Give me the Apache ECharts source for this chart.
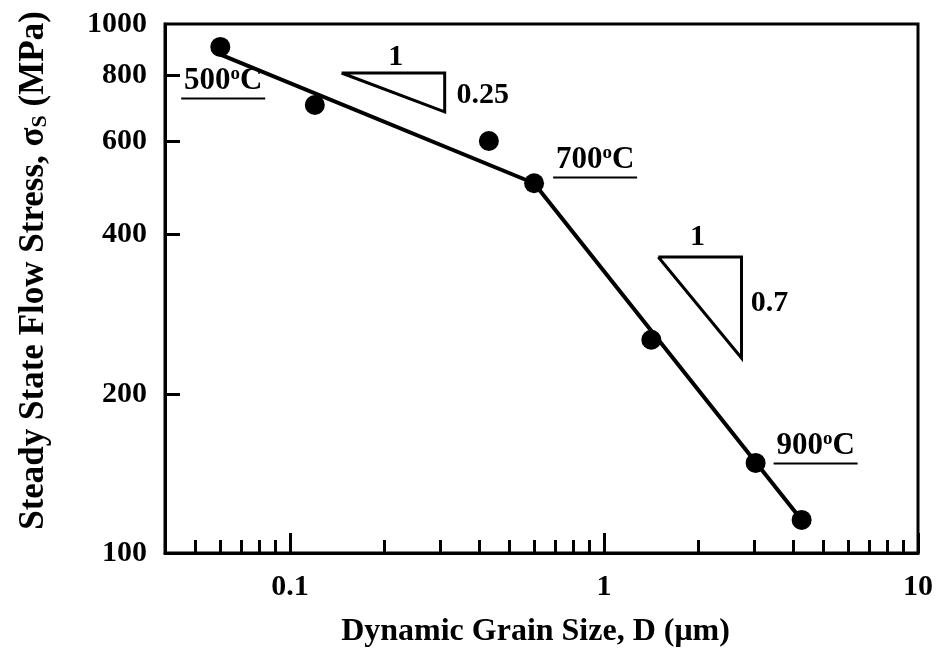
<!DOCTYPE html>
<html>
<head>
<meta charset="utf-8">
<script src="https://cdn.jsdelivr.net/npm/echarts@6/dist/echarts.min.js"></script>
<style>
html,body{margin:0;padding:0;background:#fff;}
#chart{width:940px;height:653px;}
</style>
</head>
<body>
<div id="chart"></div>
<script>
// ---- data ----
const xTickLabels = [0.1, 1, 10];
const xMinorTicks = [0.05,0.06,0.07,0.08,0.09,0.2,0.3,0.4,0.5,0.6,0.7,0.8,0.9,2,3,4,5,6,7,8,9];
const yTickLabels = [100, 200, 400, 600, 800, 1000];
const yTicks = [200, 400, 600, 800];

const grainSize  = [0.060, 0.120, 0.430, 0.599, 1.415, 3.04, 4.26];
const flowStress = [905, 703, 601, 500, 253, 148, 115.5];

const fitX = [0.0604, 0.599, 4.26];
const fitY = [874, 500, 115.5];

const tri1X = [0.146, 0.311, 0.311, 0.146];
const tri1Y = [808, 808, 682, 808];
const tri2X = [1.489, 2.741, 2.741, 1.489];
const tri2Y = [362.7, 362.7, 233.7, 362.7];

const tempLabels = ['500', '700', '900'];
const tempX = [0.0613, 0.937, 4.72];
const tempY = [715, 507, 146];

const slopeLabels = ['1', '0.25', '1', '0.7'];
const slopeX = [0.2172, 0.4114, 1.984, 3.368];
const slopeY = [866, 734, 395.8, 297];

// ---- chart ----
const FONT = '"Liberation Serif", "Times New Roman", serif';
const zip = (a, b) => a.map((v, i) => [v, b[i]]);
const fmt = v => String(+(+v).toPrecision(6));

const chart = echarts.init(document.getElementById('chart'), null, {renderer: 'canvas'});

const option = {
  backgroundColor: '#fff',
  animation: false,
  grid: {
    left: 165, right: 22, top: 24, bottom: 100,
    show: true, borderColor: '#000', borderWidth: 3, backgroundColor: 'transparent'
  },
  xAxis: [{
    type: 'log', logBase: 10, min: 0.04, max: 10,
    position: 'bottom',
    name: 'Dynamic Grain Size, D (μm)',
    nameLocation: 'middle', nameGap: 63,
    nameTextStyle: {fontFamily: FONT, fontWeight: 'bold', fontSize: 32, color: '#000', padding: [0, 12, 0, 0]},
    axisLine: {show: true, lineStyle: {color: '#000', width: 3}},
    axisTick: {show: true, inside: true, length: 20, lineStyle: {color: '#000', width: 3}, customValues: xTickLabels},
    axisLabel: {show: true, margin: 19, customValues: xTickLabels, formatter: fmt,
      fontFamily: FONT, fontWeight: 'bold', fontSize: 30, color: '#000'},
    splitLine: {show: false},
    minorTick: {show: false}
  }, {
    type: 'log', logBase: 10, min: 0.04, max: 10,
    position: 'bottom', offset: 0,
    axisLine: {show: false},
    axisTick: {show: true, inside: true, length: 13, lineStyle: {color: '#000', width: 3}, customValues: xMinorTicks},
    axisLabel: {show: false},
    splitLine: {show: false}
  }],
  yAxis: [{
    type: 'log', logBase: 10, min: 100, max: 1000,
    name: '{a|Steady State Flow Stress, σ}{b|S}{a| (MPa)}',
    nameLocation: 'middle', nameGap: 114, nameRotate: 90,
    nameTextStyle: {
      color: '#000',
      padding: [0, 0, 0, 36],
      rich: {
        a: {fontFamily: FONT, fontWeight: 'bold', fontSize: 35, color: '#000'},
        b: {fontFamily: FONT, fontWeight: 'bold', fontSize: 22, color: '#000', verticalAlign: 'bottom'}
      }
    },
    axisLine: {show: true, lineStyle: {color: '#000', width: 3}},
    axisTick: {show: true, inside: true, length: 15, lineStyle: {color: '#000', width: 3}, customValues: yTicks},
    axisLabel: {show: true, margin: 18, customValues: yTickLabels, formatter: fmt,
      fontFamily: FONT, fontWeight: 'bold', fontSize: 30, color: '#000'},
    splitLine: {show: false},
    minorTick: {show: false}
  }],
  series: [
    {
      type: 'line', data: zip(fitX, fitY), symbol: 'none',
      lineStyle: {color: '#000', width: 4, opacity: 1}, z: 2, silent: true
    },
    {
      type: 'line', data: zip(tri1X, tri1Y), symbol: 'none',
      lineStyle: {color: '#000', width: 3, join: 'miter', opacity: 1}, z: 2, silent: true
    },
    {
      type: 'line', data: zip(tri2X, tri2Y), symbol: 'none',
      lineStyle: {color: '#000', width: 3, join: 'miter', opacity: 1}, z: 2, silent: true
    },
    {
      type: 'scatter', data: zip(grainSize, flowStress), symbol: 'circle', symbolSize: 20,
      itemStyle: {color: '#000', opacity: 1}, z: 3, silent: true
    },
    {
      type: 'scatter', data: zip(slopeX, slopeY).map((p, i) => ({value: p, name: slopeLabels[i]})),
      symbolSize: 0, z: 4, silent: true,
      itemStyle: {color: '#000', opacity: 1},
      label: {show: true, position: 'inside', formatter: p => p.name, opacity: 1,
        fontFamily: FONT, fontWeight: 'bold', fontSize: 30, color: '#000'}
    },
    {
      type: 'scatter', data: zip(tempX, tempY).map((p, i) => ({value: p, name: tempLabels[i]})),
      symbolSize: 0, z: 4, silent: true,
      itemStyle: {color: '#000', opacity: 1},
      label: {show: true, position: 'inside', align: 'center', verticalAlign: 'bottom', opacity: 1,
        formatter: p => '{t|' + p.name + '}{s|o}{t|C}\n{u|}',
        rich: {
          t: {fontFamily: FONT, fontWeight: 'bold', fontSize: 31, color: '#000', lineHeight: 31},
          s: {fontFamily: FONT, fontWeight: 'bold', fontSize: 19, color: '#000', verticalAlign: 'top', lineHeight: 7},
          u: {width: 84, height: 2, lineHeight: 5, backgroundColor: '#000'}
        }
      }
    }
  ]
};
chart.setOption(option);
</script>
</body>
</html>
